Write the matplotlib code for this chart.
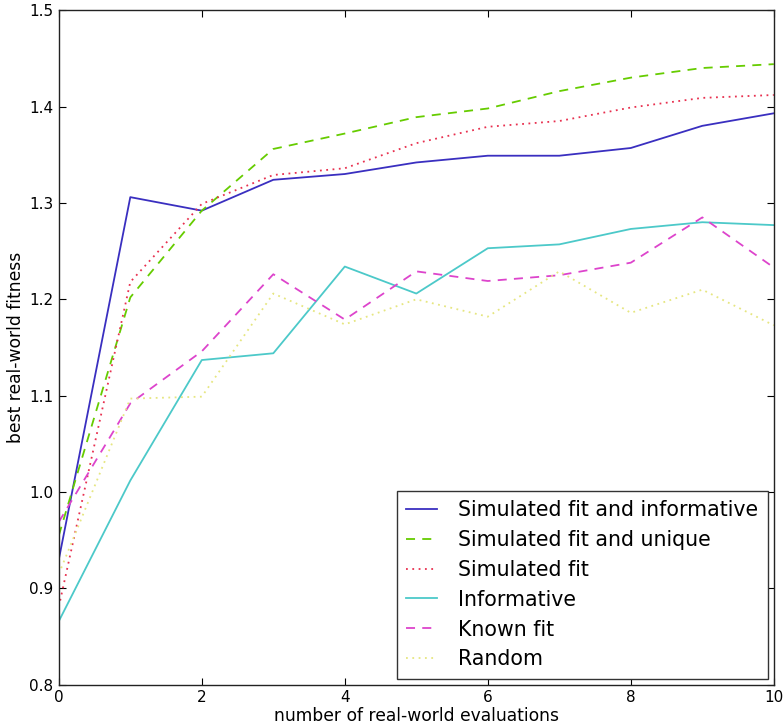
import matplotlib
matplotlib.use("Agg")
import matplotlib.pyplot as plt

x = [0, 1, 2, 3, 4, 5, 6, 7, 8, 9, 10]

labels = ["Simulated fit and informative", "Simulated fit and unique", "Simulated fit",
          "Informative", "Known fit", "Random"]

sim_fit_informative = [0.930, 1.306, 1.292, 1.324, 1.330, 1.342, 1.349, 1.349, 1.357, 1.380, 1.393]
sim_fit_unique      = [0.955, 1.202, 1.292, 1.356, 1.372, 1.389, 1.398, 1.416, 1.430, 1.440, 1.444]
sim_fit             = [0.881, 1.218, 1.299, 1.329, 1.336, 1.362, 1.379, 1.385, 1.399, 1.409, 1.412]
informative         = [0.866, 1.012, 1.137, 1.144, 1.234, 1.206, 1.253, 1.257, 1.273, 1.280, 1.277]
known_fit           = [0.969, 1.092, 1.146, 1.226, 1.179, 1.229, 1.219, 1.225, 1.238, 1.285, 1.233]
random_sel          = [0.915, 1.097, 1.099, 1.206, 1.174, 1.200, 1.182, 1.229, 1.186, 1.210, 1.173]

series = [sim_fit_informative, sim_fit_unique, sim_fit, informative, known_fit, random_sel]
colors = ["#3a2fc0", "#66cc00", "#e8304f", "#4cc9c9", "#dd44cc", "#e6e680"]
styles = ["-", (0, (5, 4)), (0, (1, 2.5)), "-", (0, (5, 4)), (0, (1, 2.5))]

fig = plt.figure(figsize=(7.84, 7.27), dpi=100)
ax = fig.add_axes([0.075, 0.058, 0.912, 0.928])

for ys, c, ls, lab in zip(series, colors, styles, labels):
    ax.plot(x, ys, color=c, linestyle=ls, linewidth=1.3, label=lab)

ax.set_xlim(0, 10)
ax.set_ylim(0.8, 1.5)
ax.set_xticks([0, 2, 4, 6, 8, 10])
ax.set_yticks([0.8, 0.9, 1.0, 1.1, 1.2, 1.3, 1.4, 1.5])
ax.set_yticklabels(["0.8", "0.9", "1.0", "1.1", "1.2", "1.3", "1.4", "1.5"])
ax.tick_params(direction="in", top=True, right=True, labelsize=11, length=5, pad=4)
for s in ax.spines.values():
    s.set_linewidth(1.0)
    s.set_color("#222222")

ax.set_xlabel("number of real-world evaluations", fontsize=12.3, labelpad=1)
ax.set_ylabel("best real-world fitness", fontsize=12.3, labelpad=3)

leg = ax.legend(loc="lower right", fontsize=14.8, fancybox=False, framealpha=1,
                edgecolor="#333333", borderaxespad=0.3, handlelength=1.5,
                handletextpad=1.05, labelspacing=0.48, borderpad=0.45)
leg.get_frame().set_linewidth(1.0)

fig.savefig("out.png", dpi=100)
